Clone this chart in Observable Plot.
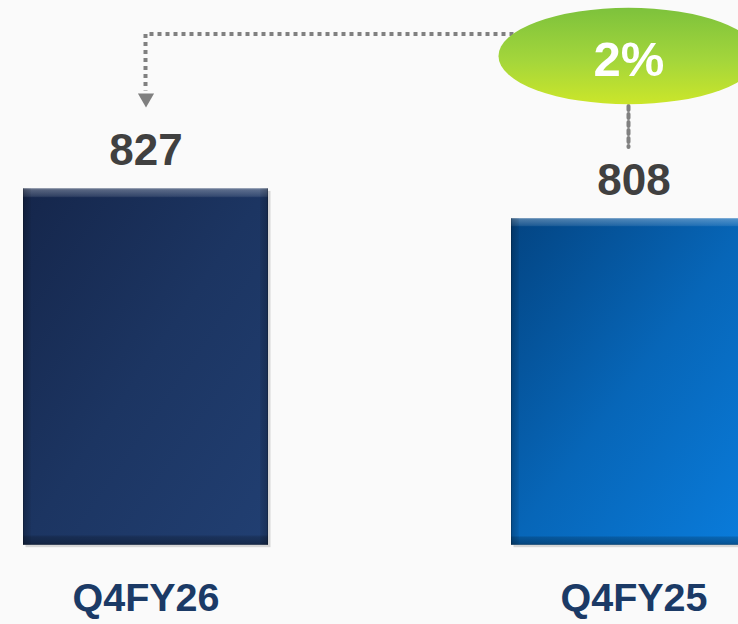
<!DOCTYPE html>
<html>
<head>
<meta charset="utf-8">
<script src="https://cdn.jsdelivr.net/npm/d3@7"></script>
<script src="https://cdn.jsdelivr.net/npm/@observablehq/plot@0.6"></script>
<style>
  html, body { margin: 0; padding: 0; background: #fafafa; overflow: hidden; }
  #chart { width: 738px; height: 624px; overflow: hidden; }
</style>
</head>
<body>
<div id="chart"></div>
<script>
// ---- data ----
const categories = ["Q4FY26", "Q4FY25"];
const values = [827, 808];
const changeLabel = "2%";
const yBase = 600;   // value axis starts here (bars are not zero-based)

// annotation anchor levels, in data units of the value axis
const connectorTop = 925.66;
const arrowLineEnd = 889.7;
const arrowHeadAt = 884.8;
const dropTop = 900.18;
const dropEnd = 853.6;
const bubbleBottom = 880.6;
const bubbleTop = 942.0;
const bubbleTextAt = 899.2;

// ---- styles ----
const barGradients = ["navyGrad", "blueGrad"];
const font = "'Liberation Sans', Arial, Helvetica, sans-serif";
const dotted = {stroke: "#808080", strokeWidth: 4, strokeDasharray: "4 4"};

const idx = categories.map((_, i) => i);
const X = i => categories[i];

const bevels = ["bevelV", "bevelH"];

const plot = Plot.plot({
  width: 738,
  height: 624,
  margin: 0,
  style: {background: "#fafafa", fontFamily: font},
  x: {type: "band", domain: categories, range: [22.5, 755.5], paddingInner: 0.498, paddingOuter: 0, axis: null},
  y: {domain: [600, 947], range: [544.7, 0], axis: null},
  marks: [
    // soft shadow
    Plot.barY(idx, {x: X, y1: () => yBase, y2: i => values[i], fill: "#000", fillOpacity: 0.14, dx: 2.5, dy: 2.5}),
    // bars, each with its own gradient
    ...idx.map(i => Plot.barY([i], {x: X, y1: () => yBase, y2: j => values[j], fill: `url(#${barGradients[i]})`})),
    // bevel overlays
    ...bevels.map(b => Plot.barY(idx, {x: X, y1: () => yBase, y2: i => values[i], fill: `url(#${b})`})),
    // value labels
    Plot.text(idx, {x: X, y: i => values[i], text: i => String(values[i]), dy: -24, lineAnchor: "bottom",
      fontSize: 44, fontWeight: "bold", fill: "#404040"}),
    // category labels
    Plot.text(idx, {x: X, y: () => yBase, text: X, dy: 66, lineAnchor: "bottom",
      fontSize: 39.5, fontWeight: "bold", fill: "#1b3a66"}),
    // dotted connector from the bubble to the first bar
    Plot.line([
      {x: categories[1], y: connectorTop},
      {x: categories[0], y: connectorTop},
      {x: categories[0], y: arrowLineEnd}
    ], {x: "x", y: "y", ...dotted, dx: -0.5, strokeLinecap: "butt", strokeLinejoin: "miter"}),
    Plot.dot([categories[0]], {x: d => d, y: () => arrowHeadAt, symbol: "triangle", rotate: 180, r: 6, fill: "#7f7f7f", stroke: "none"}),
    // dotted drop line from the bubble to the second bar's label
    Plot.line([
      {x: categories[1], y: dropTop},
      {x: categories[1], y: dropEnd}
    ], {x: "x", y: "y", ...dotted, dx: -5.5}),
    // change bubble
    Plot.barY([categories[1]], {x: d => d, y1: () => bubbleBottom, y2: () => bubbleTop,
      insetLeft: -12.5, insetRight: -2.5, rx: 130, ry: 48, fill: "url(#greenGrad)"}),
    Plot.text([changeLabel], {x: () => categories[1], y: () => bubbleTextAt, text: d => d, dx: -5, lineAnchor: "bottom",
      fontSize: 49, fontWeight: "bold", fill: "#ffffff"})
  ]
});

// gradient definitions
const svg = d3.select(plot);
const defs = svg.insert("defs", ":first-child");
function lin(id, x1, y1, x2, y2, stops) {
  const g = defs.append("linearGradient").attr("id", id)
    .attr("x1", x1).attr("y1", y1).attr("x2", x2).attr("y2", y2);
  stops.forEach(([o, c, a]) => g.append("stop").attr("offset", o).attr("stop-color", c).attr("stop-opacity", a == null ? 1 : a));
}
lin("navyGrad", 0, 0, 1, 1, [[0, "#15264b"], [0.5, "#1c3562"], [1, "#213f72"]]);
lin("blueGrad", 0, 0, 1, 1, [[0, "#034482"], [0.5, "#0766b8"], [1, "#0a7ddd"]]);
lin("greenGrad", 0, 0, 0, 1, [[0, "#7dc23c"], [0.55, "#a4d63b"], [1, "#cbe62a"]]);
lin("bevelV", 0, 0, 0, 1, [
  [0, "#ffffff", 0.45], [0.004, "#ffffff", 0.28], [0.022, "#ffffff", 0.12], [0.026, "#ffffff", 0],
  [0.972, "#000000", 0], [0.978, "#000000", 0.18], [0.996, "#000000", 0.3], [1, "#000000", 0.5]
]);
lin("bevelH", 0, 0, 1, 0, [
  [0, "#000000", 0.45], [0.006, "#000000", 0.2], [0.03, "#000000", 0.06], [0.034, "#000000", 0],
  [0.966, "#000000", 0], [0.97, "#000000", 0.08], [0.994, "#000000", 0.2], [1, "#000000", 0.45]
]);

document.getElementById("chart").appendChild(plot);
</script>
</body>
</html>
